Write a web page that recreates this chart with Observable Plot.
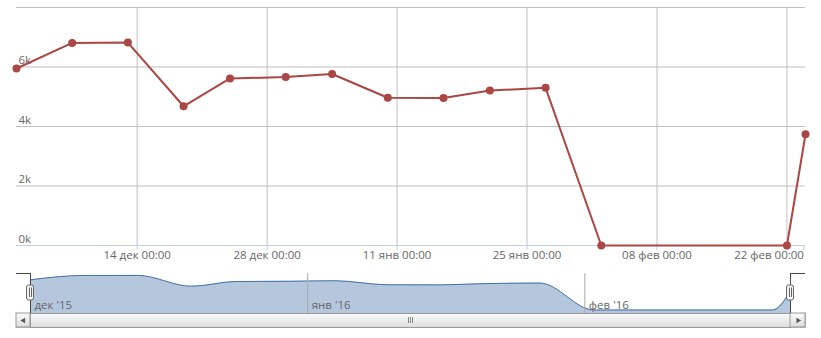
<!DOCTYPE html>
<html><head><meta charset="utf-8">
<script src="https://cdn.jsdelivr.net/npm/d3@7"></script>
<script src="https://cdn.jsdelivr.net/npm/@observablehq/plot@0.6"></script>
<style>
body{margin:0;background:#fff;}
#chart{position:relative;width:821px;height:338px;font-family:"Open Sans",sans-serif;}
#chart svg{position:absolute;left:0;overflow:visible;}
</style></head><body><div id="chart"></div>
<script>
// ---- data ----
const dates = ["2015-12-01","2015-12-07","2015-12-13","2015-12-19","2015-12-24","2015-12-30",
               "2016-01-04","2016-01-10","2016-01-16","2016-01-21","2016-01-27","2016-02-02",
               "2016-02-22","2016-02-24"];
const values = [5950, 6810, 6820, 4680, 5615, 5660, 5765, 4965, 4955, 5210, 5300, 0, 0, 3740];
const xTicks = ["2015-12-14","2015-12-28","2016-01-11","2016-01-25","2016-02-08","2016-02-22"];
const yTicks = [0, 2000, 4000, 6000];
const yGrid = [0, 2000, 4000, 6000, 8000];
const monthTicks = ["2015-12-01","2016-01-01","2016-02-01"];
const monthLabels = ["дек '15","янв '16","фев '16"];
const monthNames = ["янв","фев","мар","апр","май","июн","июл","авг","сен","окт","ноя","дек"];

const toDate = s => new Date(s + "T00:00:00Z");
const data = dates.map((d, i) => ({date: toDate(d), value: values[i]}));
const xTickDates = xTicks.map(toDate);
const monthDates = monthTicks.map(toDate);
const domain = [data[0].date, data[data.length - 1].date];
const fmt = d => `${String(d.getUTCDate()).padStart(2, "0")} ${monthNames[d.getUTCMonth()]} 00:00`;

const font = {fontFamily: "'Open Sans', sans-serif", fontSize: "11.5px", color: "#666", background: "transparent", overflow: "visible"};

// ---- main chart ----
const main = Plot.plot({
  width: 821, height: 262,
  marginLeft: 16, marginRight: 16, marginTop: 7, marginBottom: 17,
  style: font,
  x: {type: "utc", domain},
  y: {domain: [0, 8000], axis: null},
  marks: [
    Plot.gridY(yGrid, {stroke: "#c0c0c0", strokeOpacity: 1}),
    Plot.gridX(xTickDates, {stroke: "#c0c0c0", strokeOpacity: 1}),
    Plot.ruleY([0], {stroke: "#c0d0e0"}),
    Plot.axisX(xTickDates.slice(0, -1), {tickSize: 5, tickPadding: 0, stroke: "#c0d0e0", fill: "#666", tickFormat: fmt, label: null}),
    Plot.axisX(xTickDates.slice(-1), {tickSize: 5, tickPadding: 0, stroke: "#c0d0e0", fill: "#666", tickFormat: fmt, label: null, textAnchor: "end", dx: 17}),
    Plot.text(yTicks, {y: d => d, frameAnchor: "left", textAnchor: "start", lineAnchor: "bottom", dx: 2, dy: -3, text: d => d / 1000 + "k", fill: "#666"}),
    Plot.line(data, {x: "date", y: "value", stroke: "#aa4643", strokeWidth: 2}),
    Plot.dot(data, {x: "date", y: "value", r: 4, fill: "#aa4643", stroke: "none"})
  ]
});
main.style.top = "0px";

// ---- navigator ----
const navY = [-690, 7194];
const midDate = new Date((+domain[0] + +domain[1]) / 2);
const defs = () => {
  const g = d3.create("svg:defs");
  const lg = g.append("linearGradient").attr("id", "sbgrad").attr("x1", 0).attr("y1", 0).attr("x2", 0).attr("y2", 1);
  lg.append("stop").attr("offset", "0%").attr("stop-color", "#fbfbfb");
  lg.append("stop").attr("offset", "100%").attr("stop-color", "#dcdcdc");
  return g.node();
};
const nav = Plot.plot({
  width: 821, height: 76,
  marginLeft: 30, marginRight: 31, marginTop: 11, marginBottom: 25,
  style: font,
  x: {type: "utc", domain, axis: null},
  y: {domain: navY, axis: null},
  marks: [
    defs,
    Plot.areaY(data, {x: "date", y1: navY[0], y2: "value", curve: "monotone-x", fill: "#4572a7", fillOpacity: 0.4}),
    Plot.lineY(data, {x: "date", y: "value", curve: "monotone-x", stroke: "#4572a7", strokeWidth: 1}),
    Plot.ruleX(monthDates.slice(1), {stroke: "#a8a8a8"}),
    Plot.text(monthDates, {x: d => d, text: (d, i) => monthLabels[i], frameAnchor: "bottom", textAnchor: "start", lineAnchor: "bottom", dx: 4, dy: -4.5, fill: "#666"}),
    // scrollbar track, thumb, buttons
    Plot.frame({insetLeft: -14, insetRight: -15, insetTop: 40, insetBottom: -14, fill: "#eeeeee", stroke: "#bbbbbb"}),
    Plot.frame({insetTop: 40, insetBottom: -14, fill: "url(#sbgrad)", stroke: "#999"}),
    Plot.rect([domain[0]], {x1: d => d, x2: d => d, insetLeft: -14, insetTop: 40, insetBottom: -14, fill: "url(#sbgrad)", stroke: "#999"}),
    Plot.rect([domain[1]], {x1: d => d, x2: d => d, insetRight: -15, insetTop: 40, insetBottom: -14, fill: "url(#sbgrad)", stroke: "#999"}),
    Plot.dot([domain[0]], {x: d => d, symbol: "triangle", rotate: -90, r: 2, fill: "#555", stroke: "none", dx: -7, dy: 27}),
    Plot.dot([domain[1]], {x: d => d, symbol: "triangle", rotate: 90, r: 2, fill: "#555", stroke: "none", dx: 7.5, dy: 27}),
    Plot.ruleX([midDate], {dx: -2, insetTop: 44, insetBottom: -10, stroke: "#888"}),
    Plot.ruleX([midDate], {dx: 0, insetTop: 44, insetBottom: -10, stroke: "#888"}),
    Plot.ruleX([midDate], {dx: 2, insetTop: 44, insetBottom: -10, stroke: "#888"}),
    // navigator outline
    Plot.ruleY([navY[1]], {x1: domain[0], x2: domain[0], insetLeft: -14, stroke: "#444"}),
    Plot.ruleY([navY[1]], {x1: domain[1], x2: domain[1], insetRight: -15, stroke: "#444"}),
    Plot.ruleX(domain, {stroke: "#444"}),
    // handles
    Plot.rect(domain, {x1: d => d, x2: d => d, insetLeft: -3.5, insetRight: -3.5, insetTop: 12, insetBottom: 13, rx: 2, fill: "#f2f2f2", stroke: "#666"}),
    Plot.ruleX(domain, {dx: -1, insetTop: 14.5, insetBottom: 16, stroke: "#666"}),
    Plot.ruleX(domain, {dx: 1, insetTop: 14.5, insetBottom: 16, stroke: "#666"})
  ]
});
nav.style.top = "262px";

document.getElementById("chart").append(main, nav);
</script>
</body></html>
